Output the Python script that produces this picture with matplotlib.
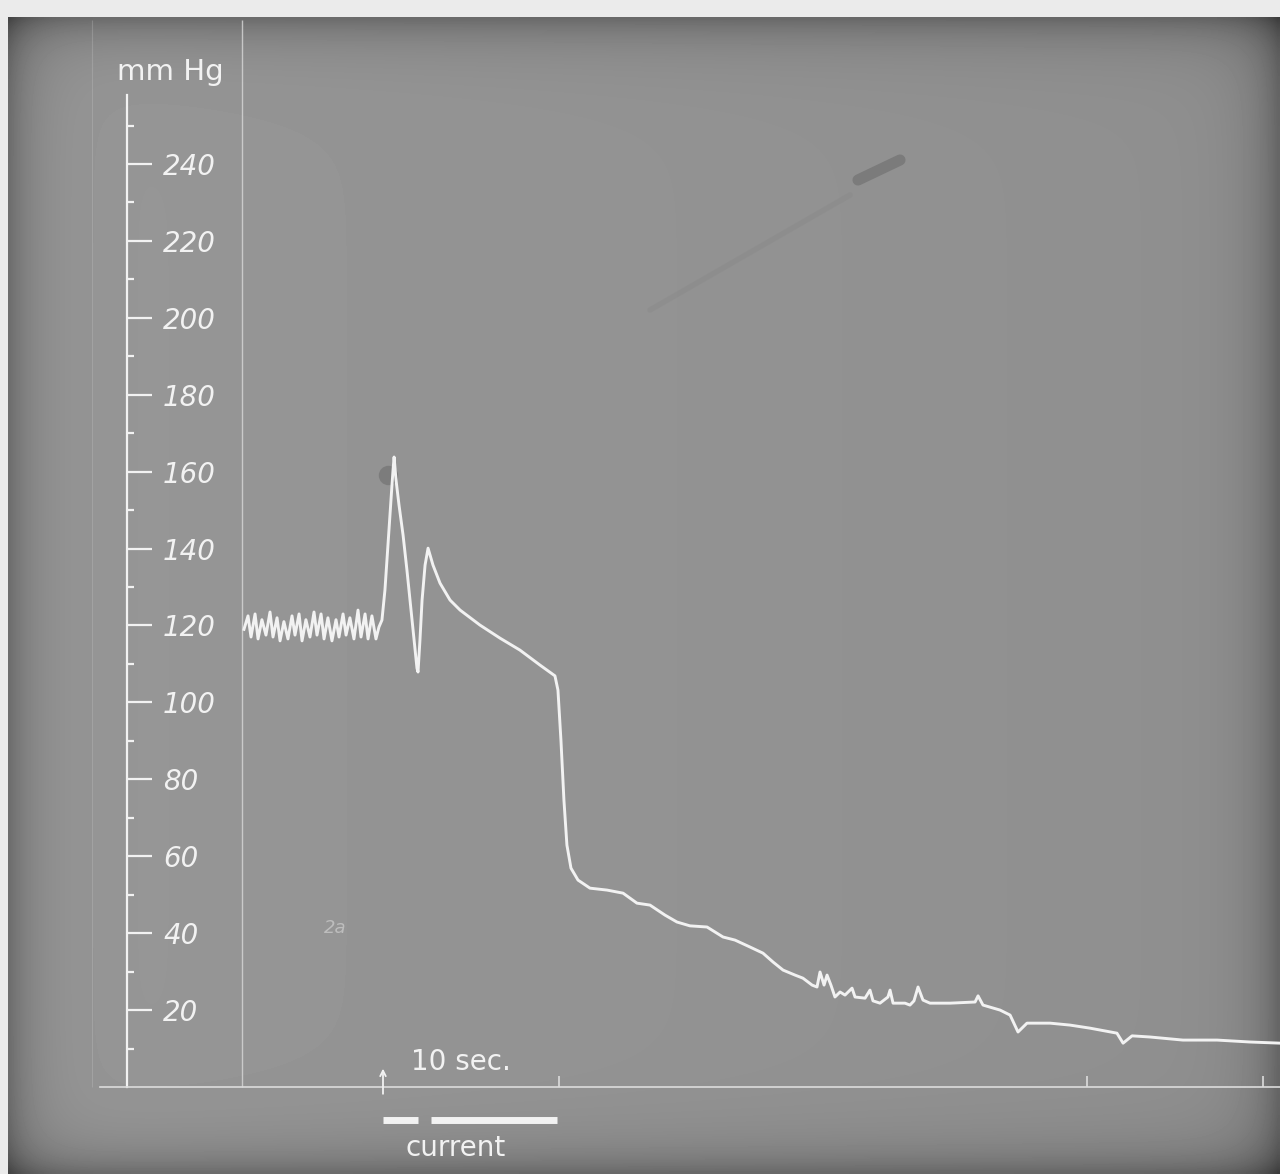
import matplotlib
matplotlib.use("Agg")
import matplotlib.pyplot as plt
import numpy as np

# resting pressure before the stimulus (time in s, pressure in mm Hg)
rest_t = [-7.90, -7.67, -7.50, -7.27, -7.10, -6.88, -6.65, -6.42, -6.25, -6.02,
          -5.85, -5.63, -5.40, -5.17, -5.00, -4.77, -4.60, -4.38, -4.15, -3.92,
          -3.75, -3.52, -3.35, -3.13, -2.90, -2.67, -2.50, -2.27, -2.10, -1.88,
          -1.65, -1.42, -1.25, -1.02, -0.85, -0.63, -0.40]
rest_p = [119.0, 122.5, 117.0, 123.0, 116.5, 121.5, 117.5, 123.5, 117.0, 122.0,
          116.0, 121.0, 116.5, 122.5, 117.5, 123.0, 116.0, 121.5, 117.0, 123.5,
          117.5, 123.0, 116.5, 122.0, 116.0, 121.5, 117.0, 123.0, 117.5, 122.0,
          116.5, 124.0, 117.0, 123.0, 116.5, 122.5, 116.5]

# response to the current and the fall afterwards
resp_t = [-0.23, -0.06, 0.11, 0.28, 0.34, 0.40, 0.51, 0.57, 0.63, 0.74, 0.91,
          1.14, 1.36, 1.59, 1.76, 1.93, 1.99, 2.10, 2.22, 2.39, 2.56, 2.84,
          3.24, 3.81, 4.38, 5.51, 6.65, 7.78, 8.92, 9.77, 9.94, 10.11, 10.28,
          10.45, 10.68, 11.08, 11.76, 12.73, 13.64, 14.03, 14.43, 15.17, 16.02,
          16.70, 17.44, 18.41, 18.86, 19.32, 20.00, 20.85, 21.59, 22.16, 22.73,
          23.41, 23.86, 24.38, 24.66, 24.83, 25.06, 25.23, 25.45, 25.68, 25.97,
          26.25, 26.65, 26.82, 27.39, 27.67, 27.84, 28.24, 28.69, 28.81, 28.98,
          29.66, 29.94, 30.17, 30.40, 30.68, 31.08, 32.22, 33.64, 33.81, 34.09,
          35.06, 35.63, 36.08, 36.59, 37.90, 39.03, 40.17, 41.70, 42.05, 42.56,
          43.58, 45.45, 47.39, 49.26, 50.97]
resp_p = [119.6, 121.4, 129.2, 140.9, 144.8, 149.5, 156.5, 160.4, 163.8, 157.8,
          151.3, 143.5, 134.4, 124.0, 116.2, 108.9, 107.9, 116.2, 126.6, 135.7,
          140.1, 135.7, 131.0, 126.6, 124.0, 120.1, 116.7, 113.6, 109.7, 106.9,
          103.2, 90.2, 74.6, 62.9, 56.9, 53.8, 51.7, 51.2, 50.4, 49.1, 47.8,
          47.3, 44.7, 42.9, 41.9, 41.6, 40.3, 39.0, 38.2, 36.4, 34.8, 32.5,
          30.4, 29.1, 28.3, 26.5, 26.0, 29.9, 26.5, 29.1, 26.5, 23.4, 24.7,
          23.9, 25.7, 23.4, 23.1, 25.2, 22.4, 21.8, 23.4, 25.2, 21.8, 21.8,
          21.3, 22.4, 26.0, 22.6, 21.8, 21.8, 22.1, 23.7, 21.3, 20.0, 18.7,
          14.3, 16.6, 16.6, 16.1, 15.3, 14.0, 11.4, 13.3, 13.0, 12.2, 12.2,
          11.7, 11.4]

# current applied (start, end in s)
current_on = [0.0, 2.7]
current_off = [2.0, 9.9]

major_ticks = [20, 40, 60, 80, 100, 120, 140, 160, 180, 200, 220, 240]
minor_ticks = [10, 30, 50, 70, 90, 110, 130, 150, 170, 190, 210, 230, 250]
time_marks = [10, 40, 50]

W, H = 1280, 1174
PX_S = 17.6      # pixels per second
PX_MM = 3.846    # pixels per mm Hg
X0, Y0 = 383, 1087  # pixel of t=0, p=0
TOP = (Y0 - 20) / PX_MM  # upper edge of the print

fig = plt.figure(figsize=(12.8, 11.74), dpi=100, facecolor="#ebebeb")

# photographic paper with darker edges
bg = fig.add_axes([8 / W, 0, 1 - 8 / W, 1 - 17 / H])
gx = np.linspace(0, 1, 300)
gy = np.linspace(0, 1, 300)
dx = np.minimum(gx, 1 - gx)[None, :]
dy = np.minimum(gy, 1 - gy)[:, None]
shade = 0.59 - 0.16 * np.exp(-dx / 0.02) - 0.16 * np.exp(-dy / 0.02)
shade = shade - 0.03 * gx[None, :]
bg.imshow(shade, cmap="gray", vmin=0, vmax=1, aspect="auto", interpolation="bilinear")
bg.axis("off")

ax = fig.add_axes([0, 0, 1, 1], facecolor="none")
ax.set_xlim(-X0 / PX_S, (W - X0) / PX_S)
ax.set_ylim(-(H - Y0) / PX_MM, Y0 / PX_MM)

ink = "#f2f2f2"

# pressure scale on the right spine, moved to the left
ax.spines["top"].set_visible(False)
ax.spines["left"].set_visible(False)
ax.spines["right"].set_position(("data", (127 - X0) / PX_S))
ax.spines["right"].set_bounds(0, 258)
ax.spines["right"].set_color(ink)
ax.spines["right"].set_linewidth(1.6)
ax.yaxis.set_ticks_position("right")
ax.set_yticks(major_ticks, [str(v) for v in major_ticks], fontstyle="italic")
ax.set_yticks(minor_ticks, minor=True)
ax.tick_params(axis="y", which="major", direction="out", length=18, width=1.6,
               colors=ink, labelsize=20, pad=8)
ax.tick_params(axis="y", which="minor", direction="out", length=5, width=1.6, colors=ink)

# time base
ax.spines["bottom"].set_position(("data", 0))
ax.spines["bottom"].set_bounds((100 - X0) / PX_S, (W - X0) / PX_S)
ax.spines["bottom"].set_color("#dcdcdc")
ax.spines["bottom"].set_linewidth(1.2)
ax.set_xticks(time_marks, [])
ax.tick_params(axis="x", which="major", direction="in", length=8, width=1.2, colors="#dcdcdc")

ax.vlines((242 - X0) / PX_S, 0, TOP, color="#d8d8d8", lw=1.0, alpha=0.8)
ax.vlines((92 - X0) / PX_S, 0, TOP, color="#d0d0d0", lw=0.8, alpha=0.25)

# stains on the print
ax.plot([(858 - X0) / PX_S, (900 - X0) / PX_S], [(Y0 - 180) / PX_MM, (Y0 - 160) / PX_MM],
        color="#5a5a5a", lw=8, alpha=0.4, solid_capstyle="round")
ax.plot([(650 - X0) / PX_S, (850 - X0) / PX_S], [(Y0 - 310) / PX_MM, (Y0 - 195) / PX_MM],
        color="#777777", lw=4, alpha=0.15, solid_capstyle="round")
ax.plot([0.3], [159], "o", color="#4a4a4a", ms=14, alpha=0.3, mec="none")

# pressure trace
ax.plot(rest_t + resp_t, rest_p + resp_p, color=ink, lw=2.1, solid_joinstyle="round")

# stimulus marker and current bars
ax.annotate("", xy=(0, 5.5), xytext=(0, -2.5),
            arrowprops=dict(arrowstyle="->", color=ink, lw=1.3))
ax.hlines([-8.6] * len(current_on), current_on, current_off, color=ink, lw=5)

ax.text(1.6, 6.4, "10 sec.", color=ink, fontsize=20, ha="left", va="center")
ax.text(4.1, -15.9, "current", color=ink, fontsize=20, ha="center", va="center")
fig.text(170 / W, 1 - 72 / H, "mm Hg", color=ink, fontsize=21, ha="center", va="center")
ax.text((335 - X0) / PX_S, (Y0 - 928) / PX_MM, "2a", color="#cfcfcf", fontsize=13,
        fontstyle="italic", ha="center", va="center", alpha=0.7)

fig.savefig("out.png", dpi=100, facecolor=fig.get_facecolor())
